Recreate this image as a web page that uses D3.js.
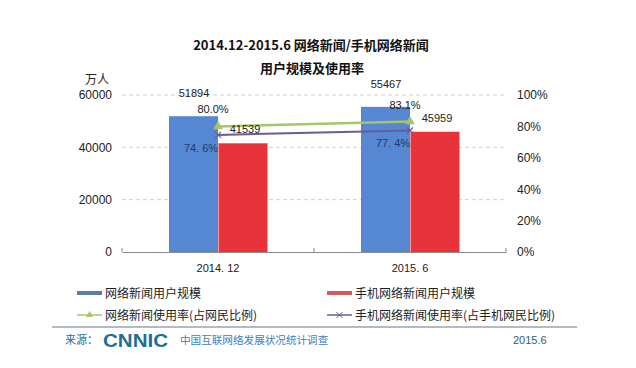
<!DOCTYPE html>
<html><head><meta charset="utf-8">
<script src="https://cdn.jsdelivr.net/npm/d3@7"></script>
<style>body{margin:0;background:#fff}</style>
</head><body>
<svg id="c" width="636" height="368"></svg>
<script>
const categories = ["2014. 12", "2015. 6"];
const newsUsers = [51894, 55467];
const mobileNewsUsers = [41539, 45959];
const newsRate = [0.800, 0.831];
const mobileNewsRate = [0.746, 0.774];
const leftTicks = [0, 20000, 40000, 60000];
const rightTicks = [0, 0.2, 0.4, 0.6, 0.8, 1.0];
const seriesNames = ["网络新闻用户规模", "手机网络新闻用户规模", "网络新闻使用率(占网民比例)", "手机网络新闻使用率(占手机网民比例)"];

const svg = d3.select("#c");
const num = "Liberation Sans, Arial, sans-serif";
const cjk = "Noto Sans CJK SC, sans-serif";
const C = {blue:"#5587d2", red:"#e9333b", green:"#a8c46a", purple:"#6a5a98"};

const x = d3.scaleBand().domain(categories).range([122, 506]);
const yL = d3.scaleLinear().domain([0, 60000]).range([252, 95]);
const yR = d3.scaleLinear().domain([0, 1]).range([252, 95]);
const barW = 49;

// title
svg.append("text").attr("x", 311).attr("y", 50).attr("text-anchor","middle")
  .attr("font-family", cjk).attr("font-weight","bold").attr("font-size",13).attr("fill","#111")
  .text("2014.12-2015.6 网络新闻/手机网络新闻");
svg.append("text").attr("x", 312).attr("y", 73).attr("text-anchor","middle")
  .attr("font-family", cjk).attr("font-weight","bold").attr("font-size",13).attr("fill","#111")
  .text("用户规模及使用率");

// grid
svg.append("g").selectAll("line").data(leftTicks.slice(1)).join("line")
  .attr("x1",122).attr("x2",506).attr("y1",d=>yL(d)).attr("y2",d=>yL(d))
  .attr("stroke","#cfcfcf").attr("stroke-dasharray","4,3");

// left axis
const gL = svg.append("g").attr("transform","translate(122,0)")
  .call(d3.axisLeft(yL).tickValues(leftTicks).tickFormat(d3.format("d")).tickSize(0).tickPadding(10));
gL.select(".domain").remove();
gL.selectAll("text").attr("font-family",num).attr("font-size",12).attr("fill","#222");
svg.append("text").attr("x",85).attr("y",84).attr("font-family",cjk).attr("font-size",12).attr("fill","#222").text("万人");

// right axis
const gR = svg.append("g").attr("transform","translate(506,0)")
  .call(d3.axisRight(yR).tickValues(rightTicks).tickFormat(d3.format(".0%")).tickSize(0).tickPadding(11));
gR.select(".domain").remove();
gR.selectAll("text").attr("font-family",num).attr("font-size",12).attr("fill","#222");

// bars
const g = svg.append("g");
categories.forEach((c,i)=>{
  const cx = x(c) + x.bandwidth()/2;
  g.append("rect").attr("x",cx-barW).attr("width",barW).attr("y",yL(newsUsers[i])).attr("height",yL(0)-yL(newsUsers[i])).attr("fill",C.blue);
  g.append("rect").attr("x",cx+0.5).attr("width",barW).attr("y",yL(mobileNewsUsers[i])).attr("height",yL(0)-yL(mobileNewsUsers[i])).attr("fill",C.red);
});

// x axis
const gX = svg.append("g").attr("transform","translate(0,252)")
  .call(d3.axisBottom(x).tickSize(0).tickPadding(12));
gX.select(".domain").attr("stroke","#8a8a8a");
gX.selectAll("text").attr("font-family",num).attr("font-size",11).attr("fill","#222");
svg.append("g").selectAll("line").data([122,314,506]).join("line")
  .attr("x1",d=>d).attr("x2",d=>d).attr("y1",248).attr("y2",252).attr("stroke","#8a8a8a");

// lines
const lineR = d3.line().x((d,i)=>x(categories[i])+x.bandwidth()/2).y(d=>yR(d));
svg.append("path").datum(mobileNewsRate).attr("d",lineR).attr("fill","none").attr("stroke",C.purple).attr("stroke-width",2);
svg.append("path").datum(newsRate).attr("d",lineR).attr("fill","none").attr("stroke",C.green).attr("stroke-width",2.5);
const tri = d3.symbol().type(d3.symbolTriangle).size(40);
newsRate.forEach((v,i)=>{
  const cx = x(categories[i])+x.bandwidth()/2;
  svg.append("path").attr("d",tri).attr("transform",`translate(${cx},${yR(v)})`).attr("fill",C.green);
});
mobileNewsRate.forEach((v,i)=>{
  const cx = x(categories[i])+x.bandwidth()/2, cy = yR(v);
  svg.append("path").attr("d",`M${cx-3},${cy-3}L${cx+3},${cy+3}M${cx-3},${cy+3}L${cx+3},${cy-3}`).attr("stroke",C.purple).attr("stroke-width",1.2);
});

// value labels
const lab = (tx,ty,t,fill)=>svg.append("text").attr("x",tx).attr("y",ty).attr("text-anchor","middle")
  .attr("font-family",num).attr("font-size",11).attr("fill",fill||"#222").text(t);
categories.forEach((c,i)=>{
  const cx = x(c)+x.bandwidth()/2;
  lab(cx-24, yL(newsUsers[i])-19, newsUsers[i]);
  lab(cx+27, yL(mobileNewsUsers[i])-10, mobileNewsUsers[i]);
  lab(cx-5, yR(newsRate[i])-13, d3.format(".1%")(newsRate[i]));
  lab(cx-17, yR(mobileNewsRate[i])+17, d3.format(".1%")(mobileNewsRate[i]).replace(".",". "), "#1f3c6e");
});

// legend
const lg = svg.append("g");
const items = [
  {x:77,y:293,c:"#5b7ba8",t:seriesNames[0],k:"bar"},
  {x:327,y:293,c:"#d95a5e",t:seriesNames[1],k:"bar"},
  {x:77,y:315,c:C.green,t:seriesNames[2],k:"tri"},
  {x:327,y:315,c:C.purple,t:seriesNames[3],k:"x"}];
items.forEach(it=>{
  if(it.k==="bar"){
    lg.append("rect").attr("x",it.x).attr("y",it.y-2).attr("width",25).attr("height",4).attr("fill",it.c);
  } else {
    lg.append("line").attr("x1",it.x).attr("x2",it.x+25).attr("y1",it.y).attr("y2",it.y).attr("stroke",it.c).attr("stroke-width",1.5);
    if(it.k==="tri") lg.append("path").attr("d",d3.symbol().type(d3.symbolTriangle).size(20)).attr("transform",`translate(${it.x+12.5},${it.y})`).attr("fill",it.c);
    else { const mx=it.x+12.5,my=it.y; lg.append("path").attr("d",`M${mx-3},${my-3}L${mx+3},${my+3}M${mx-3},${my+3}L${mx+3},${my-3}`).attr("stroke",it.c).attr("stroke-width",1); }
  }
  lg.append("text").attr("x",it.x+28).attr("y",it.y+4.5).attr("font-family",cjk).attr("font-size",12).attr("fill","#222").text(it.t);
});

// footer
svg.append("line").attr("x1",52).attr("x2",577).attr("y1",327).attr("y2",327).attr("stroke","#6b7785").attr("stroke-width",1);
svg.append("text").attr("x",65).attr("y",344).attr("font-family",cjk).attr("font-size",11).attr("fill","#2a6f8f").text("来源：");
svg.append("text").attr("x",103).attr("y",347).attr("font-family",num).attr("font-weight","bold").attr("font-size",19)
  .attr("textLength",65).attr("lengthAdjust","spacingAndGlyphs").attr("fill","#1f6e96").text("CNNIC");
svg.append("text").attr("x",180).attr("y",344).attr("font-family",cjk).attr("font-size",10.6).attr("fill","#3b80c4").text("中国互联网络发展状况统计调查");
svg.append("text").attr("x",513).attr("y",344).attr("font-family",num).attr("font-size",11).attr("fill","#2d5d7b").text("2015.6");
</script>
</body></html>
